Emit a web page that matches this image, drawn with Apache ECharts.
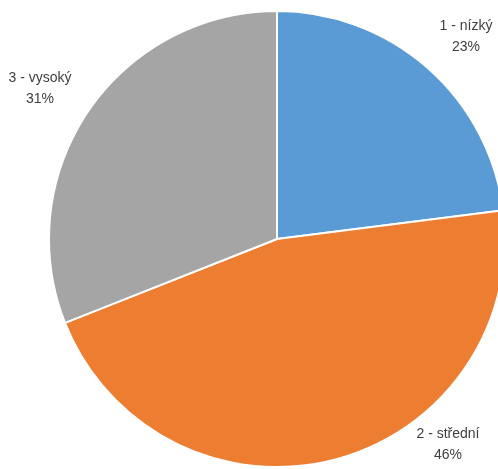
<!DOCTYPE html>
<html>
<head>
<meta charset="utf-8">
<script src="https://cdn.jsdelivr.net/npm/echarts@6/dist/echarts.min.js"></script>
<style>
  html, body { margin: 0; padding: 0; background: #fff; }
  #chart { width: 498px; height: 469px; }
</style>
</head>
<body>
<div id="chart"></div>
<script>
// Category names and their shares
const categories = ['1 - nízký', '2 - střední', '3 - vysoký'];
const values = [23, 46, 31];
const colors = ['#5B9BD5', '#ED7D31', '#A5A5A5'];

// Where each two-line label sits (centre of the text block)
const labelSpots = [
  { x: 466, y: 37 },
  { x: 448, y: 445 },
  { x: 40, y: 89 }
];

const chart = echarts.init(document.getElementById('chart'));
chart.setOption({
  animation: false,
  series: [{
    type: 'pie',
    center: [277, 239],
    radius: 228,
    startAngle: 90,
    clockwise: true,
    data: categories.map((name, i) => ({
      name: name,
      value: values[i],
      itemStyle: { color: colors[i] }
    })),
    itemStyle: { borderColor: '#ffffff', borderWidth: 2 },
    label: {
      show: true,
      position: 'outside',
      alignTo: 'none',
      overflow: 'none',
      formatter: '{b}\n{d}%',
      fontFamily: 'Liberation Sans, Arial, sans-serif',
      fontSize: 14,
      lineHeight: 21,
      color: '#404040',
      align: 'center'
    },
    labelLine: { show: false },
    labelLayout: function (params) {
      const p = labelSpots[params.dataIndex];
      return { x: p.x, y: p.y, align: 'center', verticalAlign: 'middle' };
    },
    emphasis: { disabled: true }
  }]
});
</script>
</body>
</html>
